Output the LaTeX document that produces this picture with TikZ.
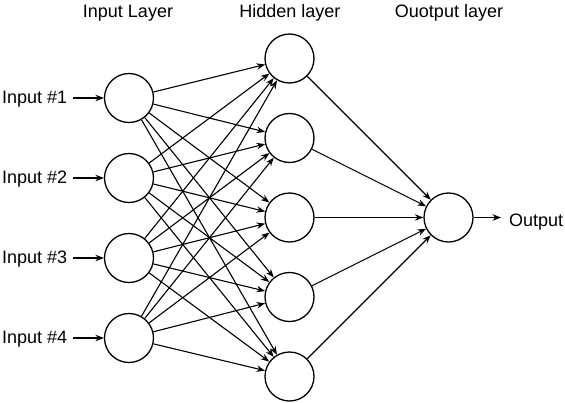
\documentclass[tikz,border=0pt]{standalone}
\usepackage{fontspec}
\setmainfont{Liberation Sans}
\usetikzlibrary{arrows.meta}
\begin{document}
\begin{tikzpicture}[x=1pt,y=-1pt,
  neuron/.style={circle, draw, line width=1.3pt, minimum size=49pt, inner sep=0pt},
  conn/.style={-{Stealth[length=8.5pt,width=6.5pt]}, line width=1.1pt},
  lbl/.style={font=\fontsize{18}{20}\selectfont, inner sep=0pt}]
\useasboundingbox (0,0) rectangle (565,402);
% titles
\node[lbl, anchor=base] (t1) at (128,17) {Input Layer};
\node[lbl, anchor=base] (t2) at (290,17) {Hidden layer};
\node[lbl, anchor=base] (t3) at (449,17) {Ouotput layer};
% input neurons
\foreach \i/\y in {1/98,2/178,3/258,4/338}{
  \node[neuron] (i\i) at (129,\y) {};
  \node[lbl, anchor=base west] (l\i) at (2,\y+5.5) {Input \#\i};
  \coordinate (s\i) at (73,\y);
  \draw[conn] (s\i) -- (i\i);
}
% hidden neurons
\foreach \j/\y in {1/58.5,2/138,3/217.5,4/297,5/376.5}{
  \node[neuron] (h\j) at (289.5,\y) {};
}
% output neuron
\node[neuron] (o) at (448.5,217.5) {};
\node[lbl, anchor=base west] (ol) at (509,226) {Output};
\coordinate (oe) at (501,217.5);
\draw[conn] (o) -- (oe);
% connections
\foreach \i in {1,...,4}{
  \foreach \j in {1,...,5}{
    \draw[conn] (i\i) -- (h\j);
  }
}
\foreach \j in {1,...,5}{
  \draw[conn] (h\j) -- (o);
}
\end{tikzpicture}
\end{document}
